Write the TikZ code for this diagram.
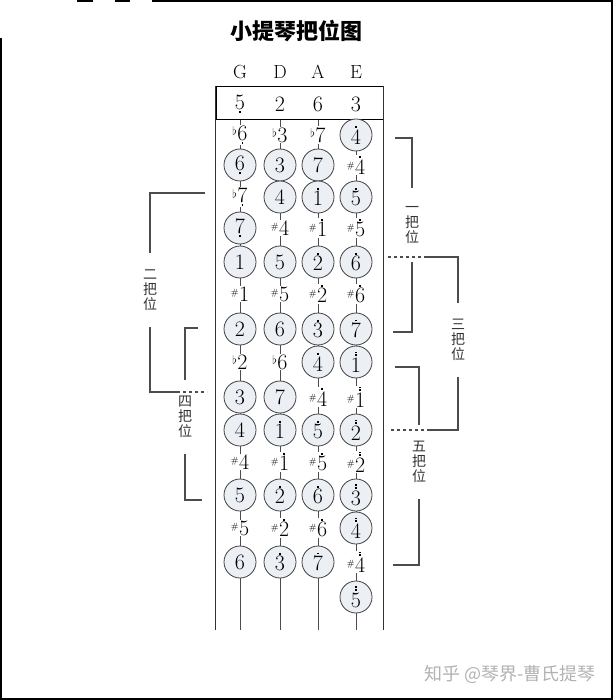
\documentclass[tikz,border=0pt]{standalone}
\usepackage{fontspec}
\newfontfamily\cjk{Noto Sans CJK SC}
\usetikzlibrary{positioning}
% digits with octave dots
\newcommand\octdot{\rule{1.8pt}{1.8pt}}
\newcommand\dlo[1]{\vtop{\offinterlineskip\halign{\hfil##\hfil\cr#1\cr\noalign{\kern1.4pt}\octdot\cr}}}
\newcommand\dhi[1]{\vbox{\offinterlineskip\halign{\hfil##\hfil\cr\octdot\cr\noalign{\kern1.6pt}#1\cr}}}
\newcommand\dhh[1]{\vbox{\offinterlineskip\halign{\hfil##\hfil\cr\octdot\cr\noalign{\kern1pt}\octdot\cr\noalign{\kern1.6pt}#1\cr}}}
\newcommand\shp{\raisebox{6pt}{\fontsize{9}{9}\selectfont\#}\kern0.6pt}
\newcommand\flt{\raisebox{4.5pt}{\fontsize{12}{12}\selectfont$\flat$}\kern0.4pt}
\newcommand\numfont{\fontsize{22}{22}\selectfont}
\tikzset{
  note/.style     = {circle, draw=black!75, line width=0.8pt, minimum size=32pt,
                     inner sep=0pt, fill={rgb,255:red,236;green,239;blue,244}, font=\numfont},
  acc/.style      = {fill=white, inner sep=1pt, font=\numfont},
  strname/.style  = {font=\fontsize{19}{19}\selectfont},
  strline/.style  = {draw=black!70, line width=0.9pt},
  boardline/.style= {draw=black!80, line width=1pt},
  frameline/.style= {draw=black, line width=2pt},
  brk/.style      = {draw=black!70, line width=1.1pt},
  vlab/.style     = {font=\cjk\fontsize{14}{15}\selectfont, text=black!80, align=center,
                     inner sep=0pt, minimum height=74pt},
}
\begin{document}
\begin{tikzpicture}[x=1pt,y=-1pt]
  \useasboundingbox (0,0) rectangle (614,700);
  % frame
  \draw[frameline] (1,38) |- (612,699) -- (612,1) -- (152,1);
  \draw[frameline] (77,1) -- (93,1) (115,1) -- (130,1);
  % title and strings
  \node[font=\cjk\bfseries\fontsize{22}{22}\selectfont] (title) at (296,31) {小提琴把位图};
  \node[strname] (G) at (240,72) {G};
  \node[strname] (D) at (280,72) {D};
  \node[strname] (A) at (318,72) {A};
  \node[strname] (E) at (356,72) {E};
  \node[draw, line width=1pt, minimum width=167pt, minimum height=33pt, inner sep=0pt] (hdr) at (299.5,103.5) {};
  \coordinate (hrow) at (0,104);
  \coordinate (bot) at (0,630);
  \foreach \y [count=\r from 0] in {135,165,197,228,262,294,329,362,397,430,462,495,528,562,597}
    \coordinate (r\r) at (0,\y);
  \foreach \c in {G,D,A,E}{\draw[strline] (\c |- hdr.south) -- (\c |- bot);}
  \draw[boardline] (hdr.north west) -- (hdr.north west |- bot);
  \draw[boardline] (hdr.north east) -- (hdr.north east |- bot);
  % open strings
  \node[font=\numfont] (g-open) at (G |- hrow) {\dlo5};
  \node[font=\numfont] (d-open) at (D |- hrow) {2};
  \node[font=\numfont] (a-open) at (A |- hrow) {6};
  \node[font=\numfont] (e-open) at (E |- hrow) {3};
  % fingerboard notes
  \foreach \s/\t [count=\r from 0] in {acc/\flt\dlo6, note/\dlo6, acc/\flt\dlo7, note/\dlo7, note/1, acc/\shp1,
      note/2, acc/\flt2, note/3, note/4, acc/\shp4, note/5, acc/\shp5, note/6}
    \node[\s] (g\r) at (G |- r\r) {\t};
  \foreach \s/\t [count=\r from 0] in {acc/\flt3, note/3, note/4, acc/\shp4, note/5, acc/\shp5, note/6, acc/\flt6,
      note/7, note/\dhi1, acc/\shp\dhi1, note/\dhi2, acc/\shp\dhi2, note/\dhi3}
    \node[\s] (d\r) at (D |- r\r) {\t};
  \foreach \s/\t [count=\r from 0] in {acc/\flt7, note/7, note/\dhi1, acc/\shp\dhi1, note/\dhi2, acc/\shp\dhi2,
      note/\dhi3, note/\dhi4, acc/\shp\dhi4, note/\dhi5, acc/\shp\dhi5, note/\dhi6, acc/\shp\dhi6, note/\dhi7}
    \node[\s] (a\r) at (A |- r\r) {\t};
  \foreach \s/\t [count=\r from 0] in {note/\dhi4, acc/\shp\dhi4, note/\dhi5, acc/\shp\dhi5, note/\dhi6, acc/\shp\dhi6,
      note/\dhi7, note/\dhh1, acc/\shp\dhh1, note/\dhh2, acc/\shp\dhh2, note/\dhh3, note/\dhh4, acc/\shp\dhh4, note/\dhh5}
    \node[\s] (e\r) at (E |- r\r) {\t};
  % positions
  \node[vlab] (p1) at (412,225) {一\\把\\位};
  \node[vlab] (p2) at (150,290) {二\\把\\位};
  \node[vlab] (p3) at (458,340) {三\\把\\位};
  \node[vlab] (p4) at (185,417) {四\\把\\位};
  \node[vlab] (p5) at (419,462) {五\\把\\位};
  \coordinate (k1a) at (395,138);  \coordinate (k1b) at (393,332);
  \coordinate (k2a) at (205,193);  \coordinate (k2b) at (177,392); \coordinate (k2c) at (207,392);
  \coordinate (k3a) at (427,257);  \coordinate (k3b) at (388,257);
  \coordinate (k3c) at (430,430);  \coordinate (k3d) at (390,430);
  \coordinate (k4a) at (198,328);  \coordinate (k4b) at (202,500);
  \coordinate (k5a) at (395,367);  \coordinate (k5b) at (393,565);
  \draw[brk] (p1.north) |- (k1a);
  \draw[brk] (p1.south) |- (k1b);
  \draw[brk] (p2.north) |- (k2a);
  \draw[brk] (p2.south) |- (k2b);
  \draw[brk, dashed] (k2b) -- (k2c);
  \draw[brk] (p3.north) |- (k3a);
  \draw[brk, dashed] (k3a) -- (k3b);
  \draw[brk] (p3.south) |- (k3c);
  \draw[brk, dashed] (k3c) -- (k3d);
  \draw[brk] (p4.north) |- (k4a);
  \draw[brk] (p4.south) |- (k4b);
  \draw[brk] (p5.north) |- (k5a);
  \draw[brk] (p5.south) |- (k5b);
  % watermark
  \node[font=\cjk\fontsize{18}{18}\selectfont, text=black!30] (wm) at (510,674) {知乎 @琴界-曹氏提琴};
\end{tikzpicture}
\end{document}
